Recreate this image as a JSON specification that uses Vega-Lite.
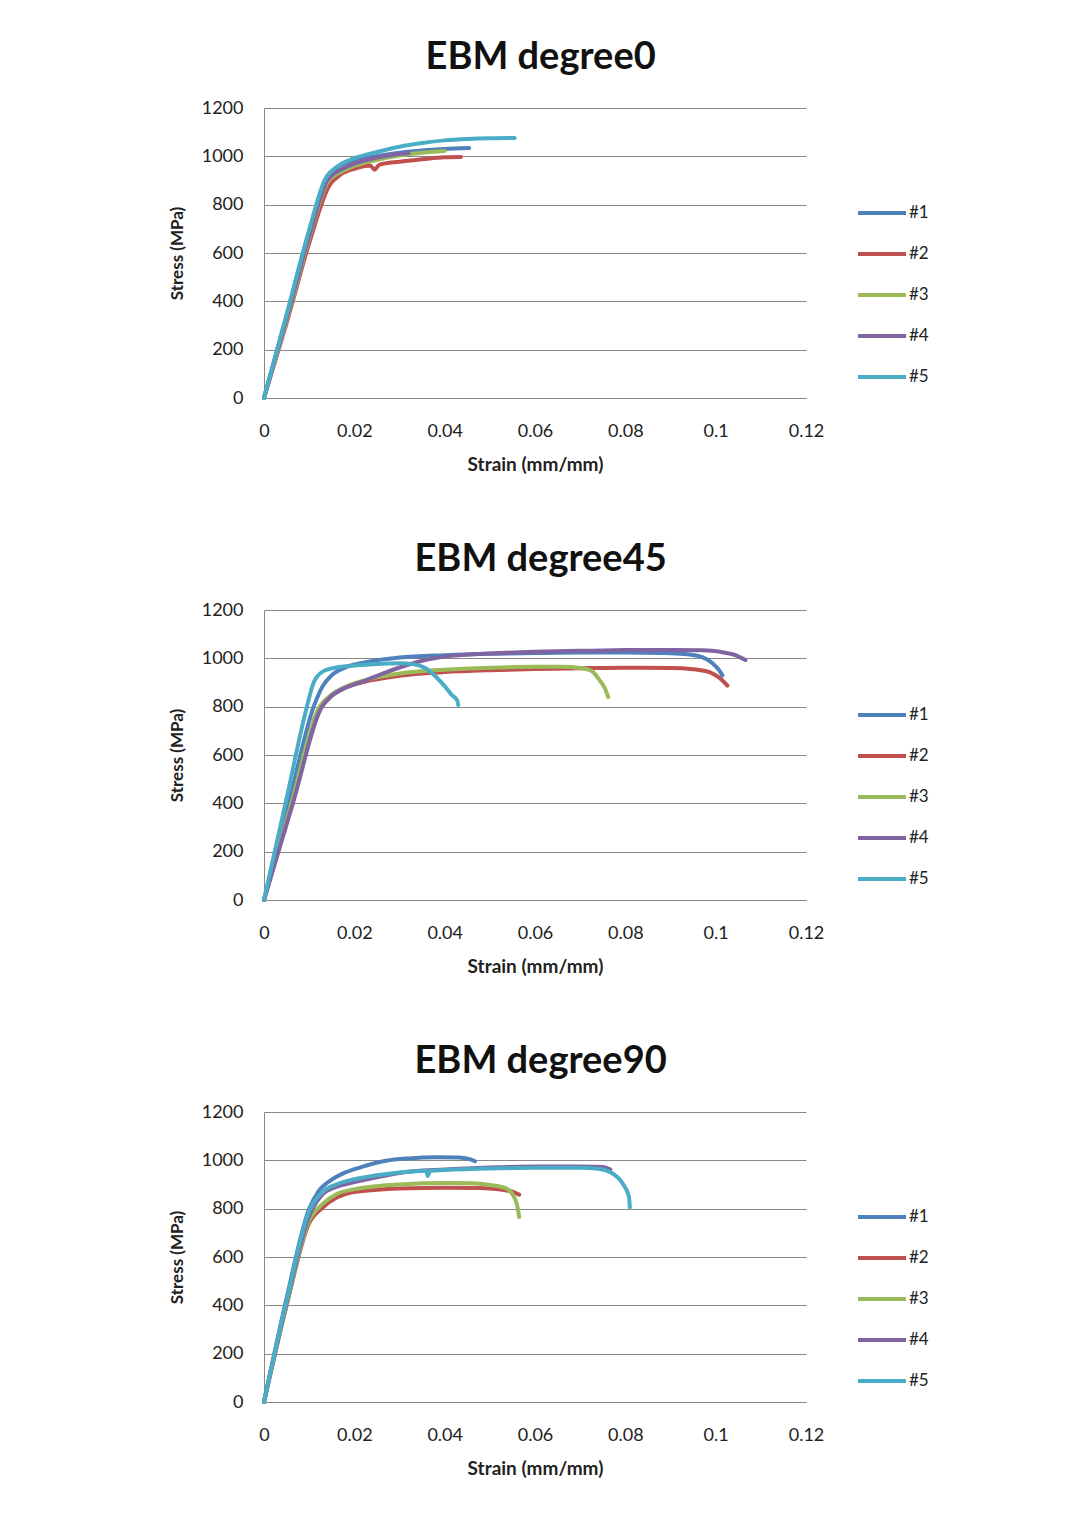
{
  "$schema": "https://vega.github.io/schema/vega-lite/v6.json",
  "padding": {"left": 168, "top": 39, "right": 0, "bottom": 0},
  "background": "white",
  "config": {
    "font": "Lato",
    "view": {"stroke": null},
    "title": {"fontSize": 38, "fontWeight": "bold", "color": "#111111", "offset": 22, "font": "Lato", "frame": "bounds", "anchor": "middle", "dx": -8},
    "axis": {"labelFont": "Lato", "titleFont": "Lato", "labelColor": "#222222", "titleColor": "#222222", "labelFontSize": 18, "titleFontWeight": "bold", "ticks": false, "domainColor": "#888888", "gridColor": "#888888", "gridWidth": 1},
    "axisX": {"titleFontSize": 19, "labelPadding": 24, "titlePadding": 15, "labelFlush": false, "grid": false},
    "axisY": {"titleFontSize": 17, "labelPadding": 21, "titlePadding": 15, "grid": true},
    "legend": {"labelFont": "Lato", "labelFontSize": 17, "labelColor": "#222222"},
    "line": {"strokeWidth": 4, "strokeCap": "round", "strokeJoin": "round", "interpolate": "monotone"}
  },
  "datasets": {
    "curves": [
      {"p":"0","s":"#1","i":0,"strain":0,"stress":0},{"p":"0","s":"#1","i":1,"strain":0.005,"stress":340},{"p":"0","s":"#1","i":2,"strain":0.010,"stress":690},{"p":"0","s":"#1","i":3,"strain":0.0135,"stress":890},{"p":"0","s":"#1","i":4,"strain":0.016,"stress":950},{"p":"0","s":"#1","i":5,"strain":0.019,"stress":978},{"p":"0","s":"#1","i":6,"strain":0.023,"stress":995},{"p":"0","s":"#1","i":7,"strain":0.028,"stress":1010},{"p":"0","s":"#1","i":8,"strain":0.035,"stress":1024},{"p":"0","s":"#1","i":9,"strain":0.040,"stress":1030},{"p":"0","s":"#1","i":10,"strain":0.0454,"stress":1034},
      {"p":"0","s":"#2","i":0,"strain":0,"stress":0},{"p":"0","s":"#2","i":1,"strain":0.005,"stress":310},{"p":"0","s":"#2","i":2,"strain":0.010,"stress":640},{"p":"0","s":"#2","i":3,"strain":0.0145,"stress":880},{"p":"0","s":"#2","i":4,"strain":0.017,"stress":925},{"p":"0","s":"#2","i":5,"strain":0.020,"stress":948},{"p":"0","s":"#2","i":6,"strain":0.0235,"stress":962},{"p":"0","s":"#2","i":7,"strain":0.0245,"stress":945},{"p":"0","s":"#2","i":8,"strain":0.0255,"stress":965},{"p":"0","s":"#2","i":9,"strain":0.030,"stress":978},{"p":"0","s":"#2","i":10,"strain":0.035,"stress":988},{"p":"0","s":"#2","i":11,"strain":0.040,"stress":996},{"p":"0","s":"#2","i":12,"strain":0.0436,"stress":997},
      {"p":"0","s":"#3","i":0,"strain":0,"stress":0},{"p":"0","s":"#3","i":1,"strain":0.005,"stress":320},{"p":"0","s":"#3","i":2,"strain":0.010,"stress":660},{"p":"0","s":"#3","i":3,"strain":0.014,"stress":890},{"p":"0","s":"#3","i":4,"strain":0.017,"stress":935},{"p":"0","s":"#3","i":5,"strain":0.020,"stress":960},{"p":"0","s":"#3","i":6,"strain":0.025,"stress":985},{"p":"0","s":"#3","i":7,"strain":0.030,"stress":1003},{"p":"0","s":"#3","i":8,"strain":0.035,"stress":1015},{"p":"0","s":"#3","i":9,"strain":0.040,"stress":1022},
      {"p":"0","s":"#4","i":0,"strain":0,"stress":0},{"p":"0","s":"#4","i":1,"strain":0.005,"stress":330},{"p":"0","s":"#4","i":2,"strain":0.010,"stress":670},{"p":"0","s":"#4","i":3,"strain":0.014,"stress":900},{"p":"0","s":"#4","i":4,"strain":0.017,"stress":945},{"p":"0","s":"#4","i":5,"strain":0.020,"stress":970},{"p":"0","s":"#4","i":6,"strain":0.025,"stress":995},{"p":"0","s":"#4","i":7,"strain":0.029,"stress":1008},{"p":"0","s":"#4","i":8,"strain":0.032,"stress":1014},
      {"p":"0","s":"#5","i":0,"strain":0,"stress":0},{"p":"0","s":"#5","i":1,"strain":0.005,"stress":345},{"p":"0","s":"#5","i":2,"strain":0.010,"stress":695},{"p":"0","s":"#5","i":3,"strain":0.0135,"stress":905},{"p":"0","s":"#5","i":4,"strain":0.016,"stress":955},{"p":"0","s":"#5","i":5,"strain":0.019,"stress":985},{"p":"0","s":"#5","i":6,"strain":0.025,"stress":1018},{"p":"0","s":"#5","i":7,"strain":0.030,"stress":1040},{"p":"0","s":"#5","i":8,"strain":0.035,"stress":1055},{"p":"0","s":"#5","i":9,"strain":0.040,"stress":1066},{"p":"0","s":"#5","i":10,"strain":0.045,"stress":1072},{"p":"0","s":"#5","i":11,"strain":0.050,"stress":1075},{"p":"0","s":"#5","i":12,"strain":0.0555,"stress":1076},

      {"p":"45","s":"#1","i":0,"strain":0,"stress":0},{"p":"45","s":"#1","i":1,"strain":0.0055,"stress":400},{"p":"45","s":"#1","i":2,"strain":0.011,"stress":800},{"p":"45","s":"#1","i":3,"strain":0.013,"stress":885},{"p":"45","s":"#1","i":4,"strain":0.015,"stress":930},{"p":"45","s":"#1","i":5,"strain":0.018,"stress":962},{"p":"45","s":"#1","i":6,"strain":0.022,"stress":982},{"p":"45","s":"#1","i":7,"strain":0.030,"stress":1003},{"p":"45","s":"#1","i":8,"strain":0.040,"stress":1013},{"p":"45","s":"#1","i":9,"strain":0.050,"stress":1019},{"p":"45","s":"#1","i":10,"strain":0.060,"stress":1022},{"p":"45","s":"#1","i":11,"strain":0.070,"stress":1024},{"p":"45","s":"#1","i":12,"strain":0.080,"stress":1024},{"p":"45","s":"#1","i":13,"strain":0.088,"stress":1022},{"p":"45","s":"#1","i":14,"strain":0.093,"stress":1018},{"p":"45","s":"#1","i":15,"strain":0.097,"stress":1005},{"p":"45","s":"#1","i":16,"strain":0.0993,"stress":980},{"p":"45","s":"#1","i":17,"strain":0.1008,"stress":950},{"p":"45","s":"#1","i":18,"strain":0.1015,"stress":930},
      {"p":"45","s":"#2","i":0,"strain":0,"stress":0},{"p":"45","s":"#2","i":1,"strain":0.006,"stress":390},{"p":"45","s":"#2","i":2,"strain":0.0125,"stress":790},{"p":"45","s":"#2","i":3,"strain":0.015,"stress":845},{"p":"45","s":"#2","i":4,"strain":0.018,"stress":878},{"p":"45","s":"#2","i":5,"strain":0.022,"stress":902},{"p":"45","s":"#2","i":6,"strain":0.030,"stress":928},{"p":"45","s":"#2","i":7,"strain":0.040,"stress":943},{"p":"45","s":"#2","i":8,"strain":0.050,"stress":951},{"p":"45","s":"#2","i":9,"strain":0.060,"stress":956},{"p":"45","s":"#2","i":10,"strain":0.070,"stress":959},{"p":"45","s":"#2","i":11,"strain":0.080,"stress":961},{"p":"45","s":"#2","i":12,"strain":0.090,"stress":960},{"p":"45","s":"#2","i":13,"strain":0.095,"stress":955},{"p":"45","s":"#2","i":14,"strain":0.099,"stress":940},{"p":"45","s":"#2","i":15,"strain":0.1008,"stress":920},{"p":"45","s":"#2","i":16,"strain":0.1026,"stress":887},
      {"p":"45","s":"#3","i":0,"strain":0,"stress":0},{"p":"45","s":"#3","i":1,"strain":0.006,"stress":395},{"p":"45","s":"#3","i":2,"strain":0.012,"stress":790},{"p":"45","s":"#3","i":3,"strain":0.015,"stress":850},{"p":"45","s":"#3","i":4,"strain":0.018,"stress":882},{"p":"45","s":"#3","i":5,"strain":0.022,"stress":908},{"p":"45","s":"#3","i":6,"strain":0.030,"stress":937},{"p":"45","s":"#3","i":7,"strain":0.040,"stress":953},{"p":"45","s":"#3","i":8,"strain":0.050,"stress":961},{"p":"45","s":"#3","i":9,"strain":0.060,"stress":965},{"p":"45","s":"#3","i":10,"strain":0.066,"stress":965},{"p":"45","s":"#3","i":11,"strain":0.070,"stress":960},{"p":"45","s":"#3","i":12,"strain":0.0725,"stress":948},{"p":"45","s":"#3","i":13,"strain":0.0742,"stress":912},{"p":"45","s":"#3","i":14,"strain":0.0755,"stress":875},{"p":"45","s":"#3","i":15,"strain":0.0762,"stress":840},
      {"p":"45","s":"#4","i":0,"strain":0,"stress":0},{"p":"45","s":"#4","i":1,"strain":0.0064,"stress":400},{"p":"45","s":"#4","i":2,"strain":0.0128,"stress":800},{"p":"45","s":"#4","i":3,"strain":0.015,"stress":845},{"p":"45","s":"#4","i":4,"strain":0.018,"stress":878},{"p":"45","s":"#4","i":5,"strain":0.022,"stress":905},{"p":"45","s":"#4","i":6,"strain":0.026,"stress":935},{"p":"45","s":"#4","i":7,"strain":0.030,"stress":962},{"p":"45","s":"#4","i":8,"strain":0.035,"stress":990},{"p":"45","s":"#4","i":9,"strain":0.040,"stress":1007},{"p":"45","s":"#4","i":10,"strain":0.050,"stress":1020},{"p":"45","s":"#4","i":11,"strain":0.060,"stress":1027},{"p":"45","s":"#4","i":12,"strain":0.070,"stress":1031},{"p":"45","s":"#4","i":13,"strain":0.080,"stress":1034},{"p":"45","s":"#4","i":14,"strain":0.090,"stress":1035},{"p":"45","s":"#4","i":15,"strain":0.097,"stress":1033},{"p":"45","s":"#4","i":16,"strain":0.101,"stress":1027},{"p":"45","s":"#4","i":17,"strain":0.104,"stress":1015},{"p":"45","s":"#4","i":18,"strain":0.1066,"stress":993},
      {"p":"45","s":"#5","i":0,"strain":0,"stress":0},{"p":"45","s":"#5","i":1,"strain":0.005,"stress":420},{"p":"45","s":"#5","i":2,"strain":0.0095,"stress":800},{"p":"45","s":"#5","i":3,"strain":0.011,"stress":900},{"p":"45","s":"#5","i":4,"strain":0.013,"stress":945},{"p":"45","s":"#5","i":5,"strain":0.016,"stress":962},{"p":"45","s":"#5","i":6,"strain":0.020,"stress":970},{"p":"45","s":"#5","i":7,"strain":0.025,"stress":977},{"p":"45","s":"#5","i":8,"strain":0.030,"stress":980},{"p":"45","s":"#5","i":9,"strain":0.033,"stress":976},{"p":"45","s":"#5","i":10,"strain":0.0357,"stress":960},{"p":"45","s":"#5","i":11,"strain":0.038,"stress":925},{"p":"45","s":"#5","i":12,"strain":0.040,"stress":885},{"p":"45","s":"#5","i":13,"strain":0.0415,"stress":850},{"p":"45","s":"#5","i":14,"strain":0.0428,"stress":825},{"p":"45","s":"#5","i":15,"strain":0.043,"stress":807},

      {"p":"90","s":"#1","i":0,"strain":0,"stress":0},{"p":"90","s":"#1","i":1,"strain":0.005,"stress":430},{"p":"90","s":"#1","i":2,"strain":0.010,"stress":800},{"p":"90","s":"#1","i":3,"strain":0.012,"stress":870},{"p":"90","s":"#1","i":4,"strain":0.015,"stress":920},{"p":"90","s":"#1","i":5,"strain":0.018,"stress":950},{"p":"90","s":"#1","i":6,"strain":0.0217,"stress":973},{"p":"90","s":"#1","i":7,"strain":0.027,"stress":998},{"p":"90","s":"#1","i":8,"strain":0.032,"stress":1008},{"p":"90","s":"#1","i":9,"strain":0.038,"stress":1013},{"p":"90","s":"#1","i":10,"strain":0.043,"stress":1012},{"p":"90","s":"#1","i":11,"strain":0.0455,"stress":1005},{"p":"90","s":"#1","i":12,"strain":0.0467,"stress":996},
      {"p":"90","s":"#2","i":0,"strain":0,"stress":0},{"p":"90","s":"#2","i":1,"strain":0.005,"stress":400},{"p":"90","s":"#2","i":2,"strain":0.010,"stress":740},{"p":"90","s":"#2","i":3,"strain":0.013,"stress":805},{"p":"90","s":"#2","i":4,"strain":0.016,"stress":845},{"p":"90","s":"#2","i":5,"strain":0.0195,"stress":868},{"p":"90","s":"#2","i":6,"strain":0.025,"stress":878},{"p":"90","s":"#2","i":7,"strain":0.030,"stress":883},{"p":"90","s":"#2","i":8,"strain":0.040,"stress":887},{"p":"90","s":"#2","i":9,"strain":0.048,"stress":886},{"p":"90","s":"#2","i":10,"strain":0.052,"stress":880},{"p":"90","s":"#2","i":11,"strain":0.055,"stress":870},{"p":"90","s":"#2","i":12,"strain":0.0565,"stress":858},
      {"p":"90","s":"#3","i":0,"strain":0,"stress":0},{"p":"90","s":"#3","i":1,"strain":0.005,"stress":400},{"p":"90","s":"#3","i":2,"strain":0.010,"stress":750},{"p":"90","s":"#3","i":3,"strain":0.013,"stress":820},{"p":"90","s":"#3","i":4,"strain":0.016,"stress":860},{"p":"90","s":"#3","i":5,"strain":0.020,"stress":880},{"p":"90","s":"#3","i":6,"strain":0.025,"stress":893},{"p":"90","s":"#3","i":7,"strain":0.030,"stress":900},{"p":"90","s":"#3","i":8,"strain":0.040,"stress":906},{"p":"90","s":"#3","i":9,"strain":0.046,"stress":905},{"p":"90","s":"#3","i":10,"strain":0.050,"stress":898},{"p":"90","s":"#3","i":11,"strain":0.0535,"stress":885},{"p":"90","s":"#3","i":12,"strain":0.0556,"stress":840},{"p":"90","s":"#3","i":13,"strain":0.0562,"stress":800},{"p":"90","s":"#3","i":14,"strain":0.0565,"stress":765},
      {"p":"90","s":"#4","i":0,"strain":0,"stress":0},{"p":"90","s":"#4","i":1,"strain":0.005,"stress":410},{"p":"90","s":"#4","i":2,"strain":0.010,"stress":770},{"p":"90","s":"#4","i":3,"strain":0.013,"stress":860},{"p":"90","s":"#4","i":4,"strain":0.016,"stress":890},{"p":"90","s":"#4","i":5,"strain":0.020,"stress":910},{"p":"90","s":"#4","i":6,"strain":0.025,"stress":930},{"p":"90","s":"#4","i":7,"strain":0.030,"stress":948},{"p":"90","s":"#4","i":8,"strain":0.040,"stress":962},{"p":"90","s":"#4","i":9,"strain":0.050,"stress":970},{"p":"90","s":"#4","i":10,"strain":0.060,"stress":974},{"p":"90","s":"#4","i":11,"strain":0.070,"stress":975},{"p":"90","s":"#4","i":12,"strain":0.075,"stress":972},{"p":"90","s":"#4","i":13,"strain":0.0767,"stress":962},
      {"p":"90","s":"#5","i":0,"strain":0,"stress":0},{"p":"90","s":"#5","i":1,"strain":0.005,"stress":420},{"p":"90","s":"#5","i":2,"strain":0.010,"stress":790},{"p":"90","s":"#5","i":3,"strain":0.013,"stress":870},{"p":"90","s":"#5","i":4,"strain":0.016,"stress":900},{"p":"90","s":"#5","i":5,"strain":0.020,"stress":922},{"p":"90","s":"#5","i":6,"strain":0.025,"stress":938},{"p":"90","s":"#5","i":7,"strain":0.030,"stress":950},{"p":"90","s":"#5","i":8,"strain":0.036,"stress":957},{"p":"90","s":"#5","i":9,"strain":0.0362,"stress":935},{"p":"90","s":"#5","i":10,"strain":0.0368,"stress":957},{"p":"90","s":"#5","i":11,"strain":0.040,"stress":960},{"p":"90","s":"#5","i":12,"strain":0.050,"stress":966},{"p":"90","s":"#5","i":13,"strain":0.060,"stress":969},{"p":"90","s":"#5","i":14,"strain":0.070,"stress":969},{"p":"90","s":"#5","i":15,"strain":0.074,"stress":965},{"p":"90","s":"#5","i":16,"strain":0.0768,"stress":950},{"p":"90","s":"#5","i":17,"strain":0.0793,"stress":907},{"p":"90","s":"#5","i":18,"strain":0.0808,"stress":850},{"p":"90","s":"#5","i":19,"strain":0.081,"stress":805}
    ]
  },
  "spacing": 67,
  "resolve": {"scale": {"color": "independent"}, "legend": {"color": "independent"}},
  "vconcat": [
    {
      "title": "EBM degree0",
      "width": 542, "height": 290,
      "data": {"name": "curves"},
      "transform": [{"filter": "datum.p == '0'"}],
      "mark": {"type": "line"},
      "encoding": {
        "x": {"field": "strain", "type": "quantitative", "scale": {"domain": [0, 0.12], "nice": false}, "axis": {"values": [0, 0.02, 0.04, 0.06, 0.08, 0.1, 0.12], "format": ".2~f", "title": "Strain (mm/mm)"}},
        "y": {"field": "stress", "type": "quantitative", "scale": {"domain": [0, 1200], "nice": false}, "axis": {"values": [0, 200, 400, 600, 800, 1000, 1200], "format": "d", "title": "Stress (MPa)"}},
        "color": {"field": "s", "type": "nominal", "scale": {"domain": ["#1", "#2", "#3", "#4", "#5"], "range": ["#4F81BD", "#C0504D", "#9BBB59", "#8064A2", "#4BACC6"]}, "legend": {"title": null, "orient": "none", "legendX": 592, "legendY": 79, "symbolType": "stroke", "symbolSize": 2304, "symbolStrokeWidth": 4, "labelOffset": 1, "rowPadding": 7}},
        "order": {"field": "i", "type": "quantitative"}
      }
    },
    {
      "title": "EBM degree45",
      "width": 542, "height": 290,
      "data": {"name": "curves"},
      "transform": [{"filter": "datum.p == '45'"}],
      "mark": {"type": "line"},
      "encoding": {
        "x": {"field": "strain", "type": "quantitative", "scale": {"domain": [0, 0.12], "nice": false}, "axis": {"values": [0, 0.02, 0.04, 0.06, 0.08, 0.1, 0.12], "format": ".2~f", "title": "Strain (mm/mm)"}},
        "y": {"field": "stress", "type": "quantitative", "scale": {"domain": [0, 1200], "nice": false}, "axis": {"values": [0, 200, 400, 600, 800, 1000, 1200], "format": "d", "title": "Stress (MPa)"}},
        "color": {"field": "s", "type": "nominal", "scale": {"domain": ["#1", "#2", "#3", "#4", "#5"], "range": ["#4F81BD", "#C0504D", "#9BBB59", "#8064A2", "#4BACC6"]}, "legend": {"title": null, "orient": "none", "legendX": 592, "legendY": 79, "symbolType": "stroke", "symbolSize": 2304, "symbolStrokeWidth": 4, "labelOffset": 1, "rowPadding": 7}},
        "order": {"field": "i", "type": "quantitative"}
      }
    },
    {
      "title": "EBM degree90",
      "width": 542, "height": 290,
      "data": {"name": "curves"},
      "transform": [{"filter": "datum.p == '90'"}],
      "mark": {"type": "line"},
      "encoding": {
        "x": {"field": "strain", "type": "quantitative", "scale": {"domain": [0, 0.12], "nice": false}, "axis": {"values": [0, 0.02, 0.04, 0.06, 0.08, 0.1, 0.12], "format": ".2~f", "title": "Strain (mm/mm)"}},
        "y": {"field": "stress", "type": "quantitative", "scale": {"domain": [0, 1200], "nice": false}, "axis": {"values": [0, 200, 400, 600, 800, 1000, 1200], "format": "d", "title": "Stress (MPa)"}},
        "color": {"field": "s", "type": "nominal", "scale": {"domain": ["#1", "#2", "#3", "#4", "#5"], "range": ["#4F81BD", "#C0504D", "#9BBB59", "#8064A2", "#4BACC6"]}, "legend": {"title": null, "orient": "none", "legendX": 592, "legendY": 79, "symbolType": "stroke", "symbolSize": 2304, "symbolStrokeWidth": 4, "labelOffset": 1, "rowPadding": 7}},
        "order": {"field": "i", "type": "quantitative"}
      }
    }
  ]
}
